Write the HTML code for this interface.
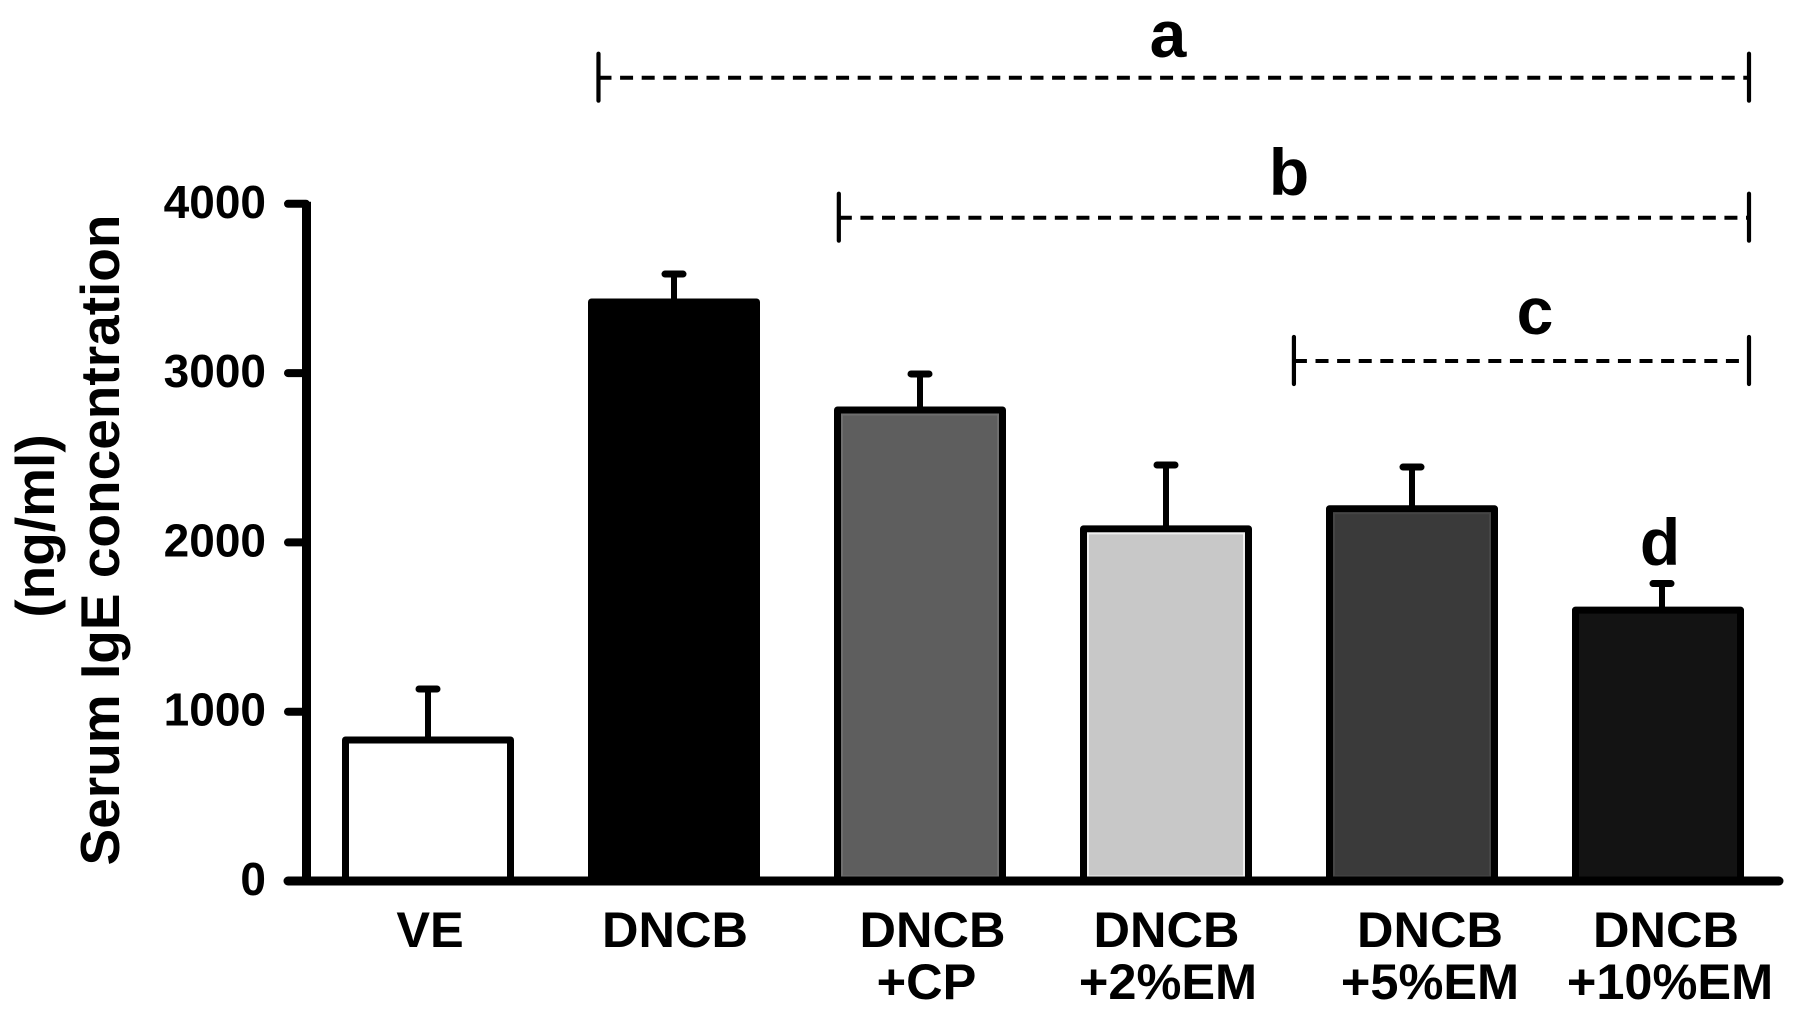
<!DOCTYPE html>
<html lang="en">
<head>
<meta charset="utf-8">
<title>Serum IgE concentration</title>
<style>
html,body{margin:0;padding:0;background:#fff;width:1795px;height:1035px;overflow:hidden}
svg{display:block}
text{font-family:"Liberation Sans",Arial,sans-serif;font-weight:bold;fill:#000}
.xl{font-size:50.5px;text-anchor:middle}
.yl{font-size:46px;text-anchor:end}
.ltr{font-size:66px;text-anchor:middle}
.title{font-size:55px;text-anchor:middle}
</style>
</head>
<body>
<svg id="chart" width="1795" height="1035" viewBox="0 0 1795 1035" xmlns="http://www.w3.org/2000/svg">
  <rect width="1795" height="1035" fill="#fff"/>
  <g id="bars"></g>
  <g id="axes"></g>
  <g id="brackets"></g>

  <text class="title" transform="translate(119,540) rotate(-90)">Serum IgE concentration</text>
  <text class="title" transform="translate(54,526) rotate(-90)">(ng/ml)</text>

  <text class="xl" x="430" y="947">VE</text>
  <text class="xl" x="675" y="947">DNCB</text>
  <text class="xl" x="932.5" y="947">DNCB</text>
  <text class="xl" x="926.5" y="999">+CP</text>
  <text class="xl" x="1166.5" y="947">DNCB</text>
  <text class="xl" x="1168" y="999">+2%EM</text>
  <text class="xl" x="1430" y="947">DNCB</text>
  <text class="xl" x="1430" y="999">+5%EM</text>
  <text class="xl" x="1666" y="947">DNCB</text>
  <text class="xl" x="1670" y="999">+10%EM</text>

  <text class="ltr" x="1168" y="57">a</text>
  <text class="ltr" x="1289" y="195">b</text>
  <text class="ltr" x="1535" y="334">c</text>
  <text class="ltr" x="1660" y="565">d</text>
</svg>
<script>
const categories = ["VE", "DNCB", "DNCB+CP", "DNCB+2%EM", "DNCB+5%EM", "DNCB+10%EM"];
const means = [833, 3420, 2782, 2080, 2199, 1600];
const errorTops = [1134, 3585, 2995, 2457, 2445, 1757];
const fills = ["#ffffff", "#000000", "#5e5e5e", "#c8c8c8", "#3a3a3a", "#131313"];
const edgeTints = ["none", "none", "#6e6e6e", "#f0f0f0", "#454545", "none"];
const tickValues = [0, 1000, 2000, 3000, 4000];
const tickLabels = ["0", "1000", "2000", "3000", "4000"];
const bracketStarts = [0.693, 1.67, 3.52];
const bracketNames = ["a", "b", "c"];

const NS = "http://www.w3.org/2000/svg";
const Y0 = 881, PXPER = 0.1693, X0 = 428, STEP = 246, BARW = 165;
function yScale(v) { return Y0 - v * PXPER; }
function xScale(i) { return X0 + i * STEP; }
function mk(tag, parent, attrs) {
  const el = document.createElementNS(NS, tag);
  for (const k in attrs) el.setAttribute(k, attrs[k]);
  parent.appendChild(el);
  return el;
}
const barsG = document.getElementById("bars");
const axesG = document.getElementById("axes");
const brG = document.getElementById("brackets");

categories.forEach(function (c, i) {
  const cx = xScale(i), top = yScale(means[i]), et = yScale(errorTops[i]);
  const ex = i === categories.length - 1 ? cx + 4 : cx;
  const stem = mk("line", barsG, {x1: ex, x2: ex, y1: top, y2: et, stroke: "#000", "stroke-width": 6});
  
  
  const cap = mk("line", barsG, {x1: ex - 9, x2: ex + 9, y1: et, y2: et, stroke: "#000", "stroke-width": 7, "stroke-linecap": "round"});
  
  
  const bar = mk("rect", barsG, {x: cx - BARW / 2, y: top, width: BARW, height: Y0 - top, fill: fills[i], stroke: "#000", "stroke-width": 7, "stroke-linejoin": "round"});
  
  
  if (edgeTints[i] !== "none") {
    const edge = mk("rect", barsG, {x: cx - BARW / 2 + 4.5, y: top + 4.5, width: BARW - 9, height: Y0 - top - 9, fill: "none", stroke: edgeTints[i], "stroke-width": 2});
    
    
  }
});

const yAxis = mk("line", axesG, {x1: 306.5, x2: 306.5, y1: yScale(4000) - 2, y2: Y0, stroke: "#000", "stroke-width": 9});


const xAxis = mk("line", axesG, {x1: 288, x2: 1779, y1: Y0, y2: Y0, stroke: "#000", "stroke-width": 9, "stroke-linecap": "round"});


tickValues.forEach(function (v, i) {
  const y = yScale(v);
  const t = mk("line", axesG, {x1: 288, x2: 306, y1: y, y2: y, stroke: "#000", "stroke-width": 8, "stroke-linecap": "round"});
  
  
  const l = mk("text", axesG, {x: 266, y: y + 14, class: "yl"});
  l.textContent = tickLabels[i];
  
  
});

const bracketRows = [77.7, 217.7, 361];
const bracketEnd = 1749;
bracketStarts.forEach(function (s, i) {
  const x0 = xScale(s), y = bracketRows[i];
  const d = mk("line", brG, {x1: x0, x2: bracketEnd, y1: y, y2: y, stroke: "#000", "stroke-width": 4, "stroke-dasharray": "13 8.6"});
  
  
  const a = mk("line", brG, {x1: x0, x2: x0, y1: y - 24, y2: y + 23, stroke: "#000", "stroke-width": 4.2, "stroke-linecap": "round"});
  
  
  const b = mk("line", brG, {x1: bracketEnd, x2: bracketEnd, y1: y - 24, y2: y + 23, stroke: "#000", "stroke-width": 4.2, "stroke-linecap": "round"});
  
  
});
</script>
</body>
</html>
